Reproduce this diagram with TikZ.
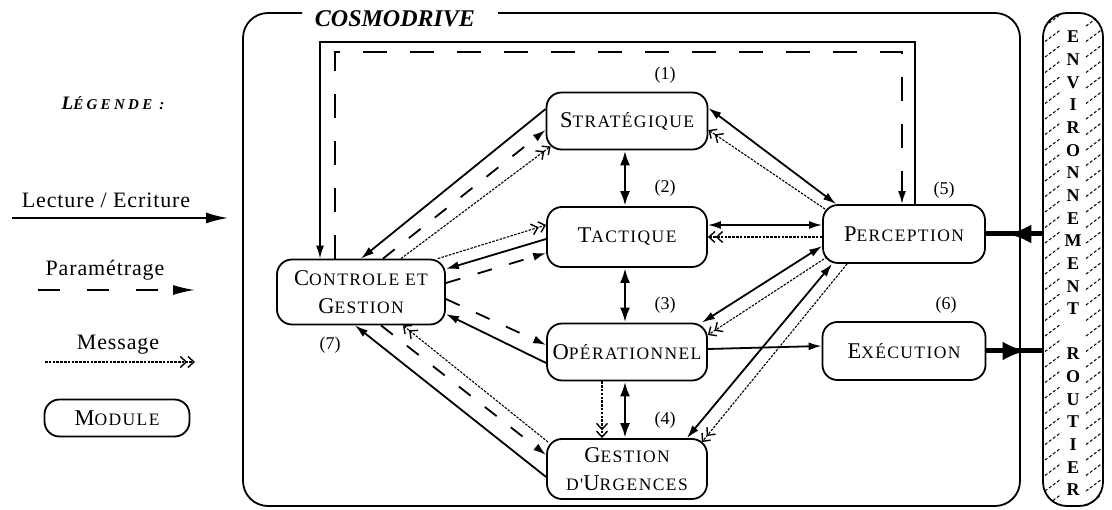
\documentclass[tikz,border=0pt]{standalone}
\usepackage{fontspec}
\setmainfont{Liberation Serif}
\newfontfamily\modfont[LetterSpace=8]{Liberation Serif}
\newfontfamily\legfont[LetterSpace=4]{Liberation Serif}
\newfontfamily\legtitlefont[LetterSpace=22]{Liberation Serif}
\usetikzlibrary{arrows.meta,calc,decorations.markings}

% small-caps lettering: large initial, smaller capitals
\newcommand\bigc[1]{{\fontsize{22.5}{28}\selectfont #1}}
\newcommand\smc[1]{{\fontsize{17.5}{28}\selectfont #1}}

\tikzset{
  module/.style={draw, line width=1.8pt, rounded corners=15pt, align=center,
    inner sep=0pt, font=\modfont\fontsize{17.5}{28}\selectfont},
  numlab/.style={font=\fontsize{18}{19}\selectfont, inner sep=0pt},
  rw/.style={line width=1.8pt, -{Latex[length=13pt,width=8pt]}},
  rwboth/.style={line width=1.8pt, {Latex[length=13pt,width=8pt]}-{Latex[length=13pt,width=8pt]}},
  param/.style={line width=1.8pt, dash pattern=on 15pt off 18pt, -{Latex[length=13pt,width=8pt]}},
  framedash/.style={line width=1.8pt, dash pattern=on 24pt off 23pt, -{Latex[length=13pt,width=8pt]}},
  msg/.style={line width=1.1pt, dash pattern=on 2.5pt off 1.3pt,
    -{Straight Barb[length=6pt,width=11pt,line width=1.4pt]Straight Barb[length=6pt,width=11pt,line width=1.4pt]}},
  heavy/.style={line width=2.8pt, {Latex[length=15pt,width=10pt]}-{Latex[length=15pt,width=10pt]}},
  bigarrow/.style={line width=5pt, postaction={decorate},
    decoration={markings, mark=at position #1 with {\arrow{Latex[length=24pt,width=19pt]}}}},
  hatch/.style={line width=1pt, dash pattern=on 3pt off 2pt},
}

\begin{document}
\begin{tikzpicture}[x=1pt,y=-1pt]
\useasboundingbox (0,0) rectangle (1112,510);

% ---------- legend ----------
\node[font=\legtitlefont\bfseries\itshape, inner sep=0pt] (legtitle) at (113,103)
  {{\fontsize{19}{20}\selectfont L}{\fontsize{15}{20}\selectfont ÉGENDE :}};
\node[font=\legfont\fontsize{22}{23}\selectfont, inner sep=0pt] (leglect) at (106,200) {Lecture / Ecriture};
\coordinate (lectA) at (12,218);
\coordinate (lectB) at (228,218);
\draw[line width=1.8pt, -{Latex[length=22pt,width=11pt]}] (lectA) -- (lectB);
\node[font=\legfont\fontsize{22}{23}\selectfont, inner sep=0pt] (legparam) at (105,270) {Paramétrage};
\coordinate (paramA) at (38,290);
\coordinate (paramB) at (195,290);
\draw[line width=1.8pt, dash pattern=on 22pt off 27pt, -{Latex[length=22pt,width=10pt]}] (paramA) -- (paramB);
\node[font=\legfont\fontsize{22}{23}\selectfont, inner sep=0pt] (legmsg) at (118,345) {Message};
\coordinate (msgA) at (45,362);
\coordinate (msgB) at (195,362);
\draw[msg] (msgA) -- (msgB);
\node[module, minimum width=145pt, minimum height=37pt] (legmod) at (117,418) {\bigc{M}\smc{ODULE}};

% ---------- COSMODRIVE frame ----------
\draw[line width=1.8pt, rounded corners=25pt]
  (302,13) -- (243,13) -- (243,506) -- (1020,506) -- (1020,13) -- (498,13);
\node[font=\bfseries\itshape\fontsize{24}{26}\selectfont, inner sep=0pt] (title) at (395,19) {COSMODRIVE};

% ---------- modules ----------
\node[module, minimum width=161pt, minimum height=57pt] (strat) at (627,121) {\bigc{S}\smc{TRATÉGIQUE}};
\node[module, minimum width=160pt, minimum height=60pt] (tact) at (627,237) {\bigc{T}\smc{ACTIQUE}};
\node[module, minimum width=160pt, minimum height=57pt] (oper) at (627,352) {\bigc{O}\smc{PÉRATIONNEL}};
\node[module, minimum width=160pt, minimum height=60pt] (gu) at (627,469)
  {\bigc{G}\smc{ESTION}\\\smc{D'}\bigc{U}\smc{RGENCES}};
\node[module, minimum width=162pt, minimum height=58pt] (perc) at (904,234) {\bigc{P}\smc{ERCEPTION}};
\node[module, minimum width=163pt, minimum height=58pt] (exec) at (904,351) {\bigc{E}\smc{XÉCUTION}};
\node[module, minimum width=168pt, minimum height=65pt] (ctrl) at (361,292)
  {\bigc{C}\smc{ONTROLE ET}\\\bigc{G}\smc{ESTION}};

\node[numlab] (n1) at (665,75) {(1)};
\node[numlab] (n2) at (665,188) {(2)};
\node[numlab] (n3) at (665,305) {(3)};
\node[numlab] (n4) at (665,420) {(4)};
\node[numlab] (n5) at (944,190) {(5)};
\node[numlab] (n6) at (946,305) {(6)};
\node[numlab] (n7) at (330,345) {(7)};

% ---------- road environment ----------
\node[draw, line width=1.8pt, rounded corners=24pt, minimum width=60pt, minimum height=493pt,
  inner sep=0pt] (env) at (1073,259.5) {};
\begin{scope}
  \clip[rounded corners=24pt] (env.north west) rectangle (env.south east);
  \foreach \k in {0,...,32} {
    \draw[hatch] (1045,{26+\k*15.5}) -- (1061,{14+\k*15.5});
    \draw[hatch] (1086,{26+\k*15.5}) -- (1102,{14+\k*15.5});
  }
\end{scope}
\foreach \ch [count=\i] in {E,N,V,I,R,O,N,N,E,M,E,N,T,{},R,O,U,T,I,E,R}
  \node[font=\bfseries\fontsize{18}{19}\selectfont, inner sep=0pt] (envl\i) at (1073,{37+(\i-1)*22.65}) {\ch};

% ---------- loops between control and perception ----------
\coordinate (solidtop) at (320,42);
\coordinate (dashtop) at (335,52);
\draw[rw] ($(perc.north)+(11,0)$) |- (solidtop) -- (solidtop |- ctrl.north);
\draw[framedash] (dashtop |- ctrl.north) -- (dashtop) -| ($(perc.north)+(-2,0)$);

% ---------- control and management links ----------
\draw[rw] ($(strat.west)+(0,-12)$) -- (ctrl.north);
\draw[param] ($(ctrl.north)+(22,0)$) -- ($(strat.west)+(0,9)$);
\draw[msg] ($(ctrl.north)+(40,0)$) -- ($(strat.south west)+(5,-4)$);

\draw[msg] ($(ctrl.north east)+(-8,0)$) -- ($(tact.west)+(0,-12)$);
\draw[rw] ($(tact.west)+(0,2)$) -- ($(ctrl.east)+(0,-23)$);
\draw[param] ($(ctrl.east)+(0,-9)$) -- ($(tact.west)+(0,16)$);

\draw[param] ($(ctrl.east)+(0,7)$) -- ($(oper.west)+(0,-7)$);
\draw[rw] ($(oper.west)+(0,11)$) -- ($(ctrl.east)+(0,22)$);

\draw[rw] ($(gu.west)+(0,8)$) -- ($(ctrl.south)+(-6,0)$);
\draw[param] ($(ctrl.south)+(20,0)$) -- ($(gu.west)+(0,-14)$);
\draw[msg] ($(gu.north west)+(2,4)$) -- ($(ctrl.south)+(42,0)$);

% ---------- hierarchy ----------
\draw[heavy] ($(strat.south)+(-2,0)$) -- ($(tact.north)+(-2,0)$);
\draw[heavy] ($(tact.south)+(-2,0)$) -- ($(oper.north)+(-2,0)$);
\draw[heavy] ($(oper.south)+(-2,0)$) -- ($(gu.north)+(-2,0)$);
\draw[msg] ($(oper.south)+(-25,0)$) -- ($(gu.north)+(-25,0)$);

% ---------- perception links ----------
\draw[rwboth] ($(strat.east)+(0,-13)$) -- ($(perc.north west)+(14,0)$);
\draw[msg] ($(perc.north west)+(3,5)$) -- ($(strat.east)+(0,9)$);
\draw[rwboth] ($(tact.east)+(0,-12)$) -- ($(perc.west)+(0,-9)$);
\draw[msg] ($(perc.west)+(0,3)$) -- (tact.east);
\draw[rwboth] ($(perc.west)+(0,12)$) -- ($(oper.north east)+(-6,0)$);
\draw[msg] ($(perc.south west)+(5,-7)$) -- ($(oper.east)+(0,-17)$);
\draw[rwboth] ($(perc.south west)+(10,0)$) -- ($(gu.north east)+(-21,0)$);
\draw[msg] ($(perc.south west)+(25,0)$) -- ($(gu.north east)+(-6,4)$);

% ---------- action and environment ----------
\draw[rw] ($(oper.east)+(0,-3)$) -- ($(exec.west)+(0,-5)$);
\draw[bigarrow=0.72] (exec.east) -- (exec.east -| env.west);
\draw[bigarrow=0.62] (perc.east -| env.west) -- (perc.east);
\end{tikzpicture}
\end{document}
